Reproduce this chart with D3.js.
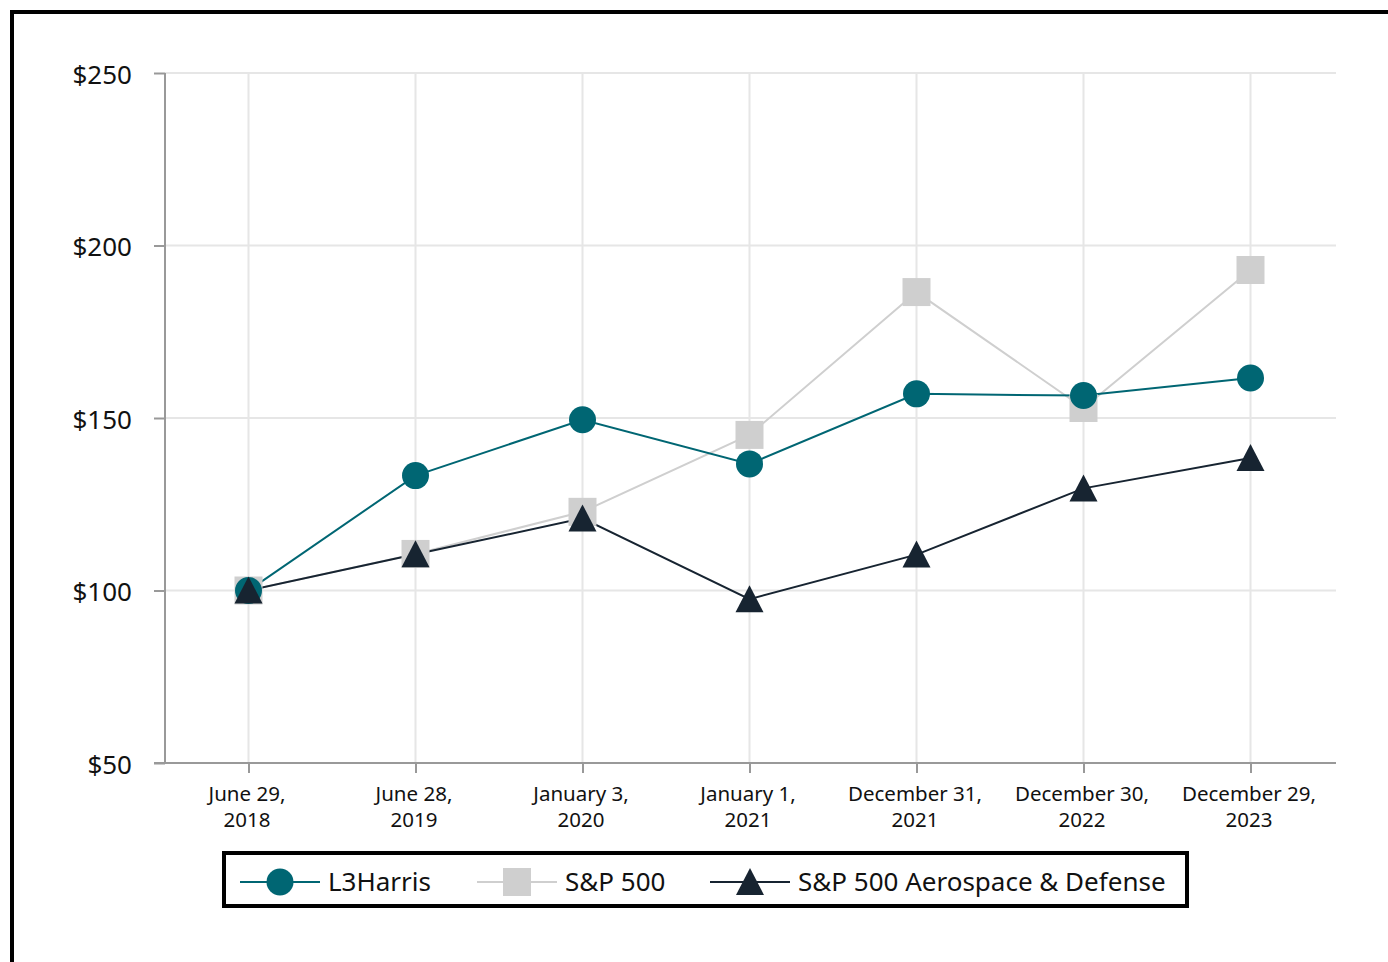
<!DOCTYPE html>
<html>
<head>
<meta charset="utf-8">
<script src="https://cdn.jsdelivr.net/npm/d3@7"></script>
<style>
  body { margin: 0; background: #fff; }
  svg { display: block; font-family: "Noto Sans", sans-serif; }
</style>
</head>
<body>
<div id="chart"></div>
<script>
// Data
const dates = [
  ["June 29,", "2018"],
  ["June 28,", "2019"],
  ["January 3,", "2020"],
  ["January 1,", "2021"],
  ["December 31,", "2021"],
  ["December 30,", "2022"],
  ["December 29,", "2023"]
];
const l3harris = [100, 133.3, 149.5, 136.7, 157.0, 156.5, 161.6];
const sp500 = [100, 110.6, 122.8, 145.1, 186.5, 152.9, 192.9];
const spAero = [100, 110.5, 120.9, 97.5, 110.4, 129.6, 138.4];
const yTicks = [50, 100, 150, 200, 250];

const series = [
  { name: "L3Harris", values: l3harris, color: "#006673", marker: "circle", lw: 2 },
  { name: "S&P 500", values: sp500, color: "#cfcfcf", marker: "square", lw: 2 },
  { name: "S&P 500 Aerospace & Defense", values: spAero, color: "#172431", marker: "triangle", lw: 2 }
];

const W = 1388, H = 962;
const margin = { top: 73, right: 52, bottom: 199, left: 165 };
const width = W - margin.left - margin.right,
  height = H - margin.top - margin.bottom;

const svgRoot = d3.select("#chart").append("svg")
  .attr("width", W)
  .attr("height", H);

// outer frame (only left and top edges are visible)
svgRoot.append("rect")
  .attr("x", 12).attr("y", 12)
  .attr("width", W + 20).attr("height", H + 20)
  .attr("fill", "none")
  .attr("stroke", "#000")
  .attr("stroke-width", 4);

const svg = svgRoot.append("g")
  .attr("transform", "translate(" + margin.left + "," + margin.top + ")");

const x = d3.scalePoint()
  .domain(d3.range(dates.length))
  .range([0, width - 2])
  .padding(0.5);

const y = d3.scaleLinear().domain([50, 250]).range([height, 0]);

// grid
svg.append("g").selectAll("line.h")
  .data(yTicks.slice(1))
  .enter().append("line")
  .attr("x1", 0).attr("x2", width)
  .attr("y1", d => y(d)).attr("y2", d => y(d))
  .attr("stroke", "#e6e6e6").attr("stroke-width", 2);

svg.append("g").selectAll("line.v")
  .data(d3.range(dates.length))
  .enter().append("line")
  .attr("x1", d => x(d)).attr("x2", d => x(d))
  .attr("y1", 0).attr("y2", height)
  .attr("stroke", "#e6e6e6").attr("stroke-width", 2);

// y axis
const yAxis = svg.append("g")
  .call(d3.axisLeft(y).tickValues(yTicks).tickFormat(d => "$" + d).tickSize(11).tickPadding(22));
yAxis.selectAll("line").attr("stroke", "#999").attr("stroke-width", 2);
yAxis.select(".domain").attr("stroke", "#999").attr("stroke-width", 2).attr("d", "M0,0V" + height);
yAxis.selectAll("text").attr("font-size", 26).attr("fill", "#111")
  .attr("y", 2)
  .attr("font-family", "Noto Sans, sans-serif");

// x axis
const xAxis = svg.append("g")
  .attr("transform", "translate(0," + height + ")")
  .call(d3.axisBottom(x).tickSize(10).tickFormat(""));
xAxis.selectAll("line").attr("stroke", "#999").attr("stroke-width", 2);
xAxis.select(".domain").attr("stroke", "#999").attr("stroke-width", 2).attr("d", "M-11,0H" + width);

xAxis.selectAll(".tick").append("text")
  .attr("fill", "#111")
  .attr("font-size", 20.5)
  .attr("text-anchor", "middle")
  .attr("font-family", "Noto Sans, sans-serif")
  .selectAll("tspan")
  .data(d => dates[d])
  .enter().append("tspan")
  .attr("x", -2)
  .attr("y", (d, i) => 38 + i * 26)
  .text(d => d);

// markers
function drawMarker(g, type, color) {
  if (type === "circle") {
    g.append("circle").attr("r", 13.5).attr("fill", color);
  } else if (type === "square") {
    g.append("rect").attr("x", -14).attr("y", -14).attr("width", 28).attr("height", 28).attr("fill", color);
  } else {
    g.append("path").attr("d", "M0,-14L14,13L-14,13Z").attr("fill", color);
  }
}

const line = d3.line()
  .x((d, i) => x(i))
  .y(d => y(d));

// draw order: S&P 500 under, then L3Harris, then Aero on top
const order = [1, 0, 2];
order.forEach(k => {
  const s = series[k];
  svg.append("path")
    .datum(s.values)
    .attr("d", line)
    .attr("fill", "none")
    .attr("stroke", s.color)
    .attr("stroke-width", s.lw);
});
order.forEach(k => {
  const s = series[k];
  svg.append("g").selectAll("g")
    .data(s.values)
    .enter().append("g")
    .attr("transform", (d, i) => "translate(" + x(i) + "," + y(d) + ")")
    .each(function () { drawMarker(d3.select(this), s.marker, s.color); });
});

// legend
const legend = svgRoot.append("g");
legend.append("rect")
  .attr("x", 224).attr("y", 853)
  .attr("width", 963).attr("height", 53)
  .attr("fill", "#fff").attr("stroke", "#000").attr("stroke-width", 4);

const legendX = [240, 477, 710];
series.forEach((s, i) => {
  const g = legend.append("g").attr("transform", "translate(" + legendX[i] + ",882)");
  g.append("line").attr("x1", 0).attr("x2", 80).attr("stroke", s.color).attr("stroke-width", 2);
  const m = g.append("g").attr("transform", "translate(40,0)");
  drawMarker(m, s.marker, s.color);
  g.append("text")
    .attr("x", 88).attr("y", 9)
    .attr("font-size", 26)
    .attr("fill", "#111")
    .text(s.name);
});
</script>
</body>
</html>
